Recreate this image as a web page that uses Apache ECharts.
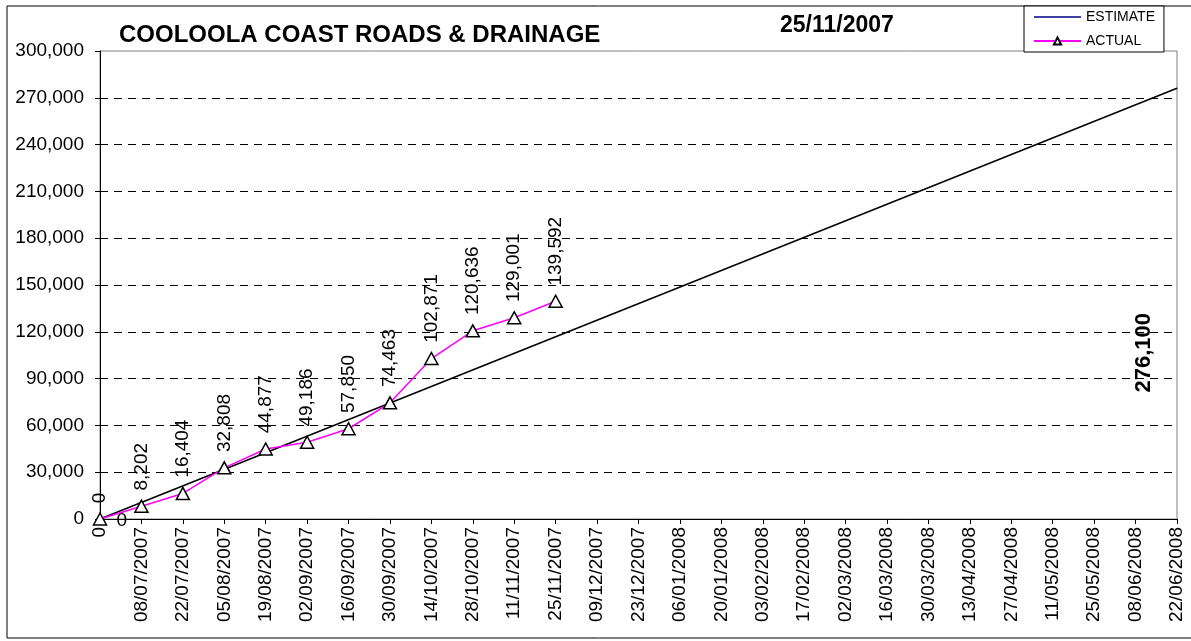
<!DOCTYPE html>
<html>
<head>
<meta charset="utf-8">
<script src="https://cdn.jsdelivr.net/npm/echarts@6/dist/echarts.min.js"></script>
<style>
html, body { margin: 0; padding: 0; background: #fff; }
#chart { width: 1191px; height: 641px; }
</style>
</head>
<body>
<div id="chart"></div>
<script>
// fortnightly reporting dates
var dates = ['0', '08/07/2007', '22/07/2007', '05/08/2007', '19/08/2007', '02/09/2007',
    '16/09/2007', '30/09/2007', '14/10/2007', '28/10/2007', '11/11/2007', '25/11/2007',
    '09/12/2007', '23/12/2007', '06/01/2008', '20/01/2008', '03/02/2008', '17/02/2008',
    '02/03/2008', '16/03/2008', '30/03/2008', '13/04/2008', '27/04/2008', '11/05/2008',
    '25/05/2008', '08/06/2008', '22/06/2008'];
var actual = [0, 8202, 16404, 32808, 44877, 49186, 57850, 74463, 102871, 120636, 129001, 139592];
var estimateEnds = [0, 276100];

var font = 'Liberation Sans';

function fmt(v) {
    return String(v).replace(/\B(?=(\d{3})+(?!\d))/g, ',');
}

var myChart = echarts.init(document.getElementById('chart'));
var option = {
    animation: false,
    backgroundColor: '#fff',
    title: [{
        text: 'COOLOOLA COAST ROADS & DRAINAGE',
        left: 119,
        top: 23,
        padding: 0,
        textStyle: { fontFamily: font, fontSize: 24, fontWeight: 'bold', color: '#000' }
    }, {
        text: '25/11/2007',
        left: 780,
        top: 14,
        padding: 0,
        textStyle: { fontFamily: font, fontSize: 23, fontWeight: 'bold', color: '#000' }
    }],
    graphic: [{
        type: 'rect',
        shape: { x: 7, y: 6, width: 1190, height: 632 },
        style: { fill: 'none', stroke: '#000', lineWidth: 1 },
        silent: true,
        z: -1
    }],
    legend: {
        left: 1024,
        top: 6,
        orient: 'vertical',
        backgroundColor: '#fff',
        borderColor: '#000',
        borderWidth: 1,
        padding: [4, 9, 4, 9],
        itemWidth: 47,
        itemHeight: 9,
        itemGap: 10,
        itemTextGap: 5,
        textStyle: { fontFamily: font, fontSize: 14, color: '#000' },
        data: [
            {
                name: 'ESTIMATE',
                icon: 'path://M0,0L47,0L47,1.5L0,1.5Z',
                itemStyle: { color: '#000080', borderWidth: 0 }
            },
            { name: 'ACTUAL' }
        ],
        z: 10
    },
    grid: {
        left: 100,
        right: 14,
        top: 51,
        bottom: 122,
        show: true,
        borderColor: '#808080',
        borderWidth: 1
    },
    xAxis: {
        type: 'category',
        data: dates,
        boundaryGap: false,
        axisLine: { lineStyle: { color: '#000', width: 1 } },
        axisTick: { show: true, length: 5, interval: 0, lineStyle: { color: '#000' } },
        axisLabel: { rotate: 90, interval: 0, margin: 8, fontFamily: font, fontSize: 19, color: '#000' },
        splitLine: { show: false }
    },
    yAxis: {
        type: 'value',
        min: 0,
        max: 300000,
        interval: 30000,
        axisLine: { show: true, lineStyle: { color: '#000', width: 1 } },
        axisTick: { show: true, length: 5, lineStyle: { color: '#000' } },
        axisLabel: { formatter: fmt, margin: 16, fontFamily: font, fontSize: 19, color: '#000' },
        splitLine: {
            show: true,
            showMinLine: false,
            showMaxLine: false,
            lineStyle: { color: '#000', type: [8, 6], width: 1 }
        }
    },
    series: [{
        name: 'ESTIMATE',
        type: 'line',
        data: [{
            value: [0, estimateEnds[0]],
            label: { show: true, position: 'right', distance: 16, offset: [0, 2], formatter: fmt(estimateEnds[0]) }
        }, {
            value: [dates.length - 1, estimateEnds[1]],
            label: {
                show: true, position: [-32.5, 265], rotate: 90, align: 'center', verticalAlign: 'middle',
                fontWeight: 'bold', fontSize: 22, formatter: fmt(estimateEnds[1])
            }
        }],
        color: '#000',
        lineStyle: { color: '#000', width: 1.5 },
        symbol: 'circle',
        symbolSize: 1,
        itemStyle: { color: '#000' },
        label: { fontFamily: font, fontSize: 19, color: '#000' },
        z: 2
    }, {
        name: 'ACTUAL',
        type: 'line',
        data: actual,
        color: '#ff00ff',
        lineStyle: { color: '#ff00ff', width: 1.5 },
        symbol: 'triangle',
        symbolSize: [13, 12],
        itemStyle: { color: '#fff', borderColor: '#000', borderWidth: 1.5 },
        label: {
            show: true,
            position: 'top',
            rotate: 90,
            align: 'left',
            verticalAlign: 'middle',
            distance: 9,
            offset: [0, 0],
            formatter: function (p) { return fmt(p.value); },
            fontFamily: font,
            fontSize: 19,
            color: '#000'
        },
        z: 3
    }]
};
myChart.setOption(option);
window.onresize = function () {
    myChart.resize();
};
</script>
</body>
</html>
